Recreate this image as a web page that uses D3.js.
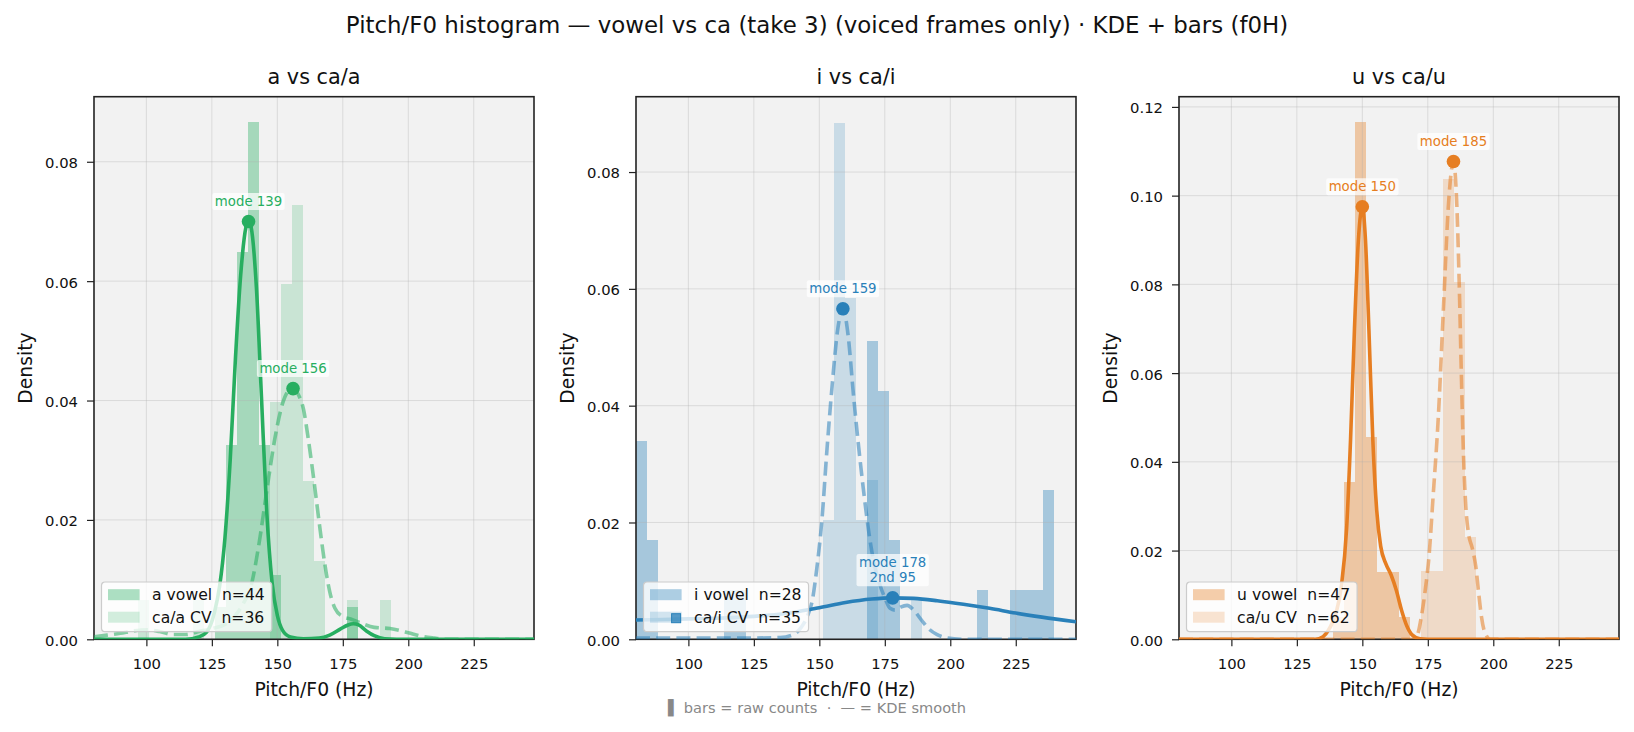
<!DOCTYPE html>
<html lang="en">
<head>
<meta charset="UTF-8">
<title>Pitch/F0 histogram — vowel vs ca</title>
<script src="https://d3js.org/d3.v7.min.js"></script>
<style>
  body { margin: 0; background: #fff; overflow: hidden; }
  svg text { font-family: "DejaVu Sans", "Liberation Sans", sans-serif; fill: #111; }
  .pre { white-space: pre; }
</style>
</head>
<body>
<svg id="chart" width="1634" height="732"></svg>
<script>
// ---- values ----
const suptitle = "Pitch/F0 histogram — vowel vs ca (take 3) (voiced frames only) · KDE + bars (f0H)";
const footnote = "▌ bars = raw counts  ·  — = KDE smooth";
const panelTitles = ["a vs ca/a", "i vs ca/i", "u vs ca/u"];
const panelColors = ["#27ae60", "#2980b9", "#e67e22"];
const vowelLabels = ["a vowel  n=44", "i vowel  n=28", "u vowel  n=47"];
const cvLabels = ["ca/a CV  n=36", "ca/i CV  n=35", "ca/u CV  n=62"];
const yMax = [0.0909, 0.0929, 0.1223];
const xTicks = [100, 125, 150, 175, 200, 225];
const yTicks = [[0, 0.02, 0.04, 0.06, 0.08], [0, 0.02, 0.04, 0.06, 0.08], [0, 0.02, 0.04, 0.06, 0.08, 0.10, 0.12]];

// shared histogram bin edges (Hz)
const binEdges = [80, 84.2, 88.4, 92.6, 96.8, 101, 105.2, 109.4, 113.6, 117.8,
  122, 126.2, 130.4, 134.6, 138.8, 143, 147.2, 151.4, 155.6, 159.8,
  164, 168.2, 172.4, 176.6, 180.8, 185, 189.2, 193.4, 197.6, 201.8,
  206, 210.2, 214.4, 218.6, 222.8, 227, 231.2, 235.4, 239.6, 243.8, 248];

// bar densities: bin index + density
const aVowelBins = [11, 12, 13, 14, 15, 16, 23];
const aVowelDens = [0.0054, 0.0325, 0.0649, 0.0866, 0.0325, 0.0108, 0.0054];
const caaBins = [4, 9, 16, 17, 18, 19, 20, 23, 26];
const caaDens = [0.0066, 0.0066, 0.0397, 0.0595, 0.0728, 0.0265, 0.0132, 0.0066, 0.0066];
const iVowelBins = [0, 1, 8, 9, 21, 22, 23, 31, 34, 35, 36, 37];
const iVowelDens = [0.0340, 0.0170, 0.0085, 0.0085, 0.0510, 0.0425, 0.0170, 0.0085, 0.0085, 0.0085, 0.0085, 0.0255];
const caiBins = [17, 18, 19, 20, 21, 25];
const caiDens = [0.0204, 0.0884, 0.0585, 0.0204, 0.0272, 0.0068];
const uVowelBins = [14, 15, 16, 17, 18, 19, 20];
const uVowelDens = [0.0051, 0.0355, 0.1165, 0.0456, 0.0152, 0.0152, 0.0051];
const cauBins = [22, 23, 24, 25, 26];
const cauDens = [0.0154, 0.0154, 0.1037, 0.0806, 0.0230];

// KDE curves [Hz, density]
const aVowelKde = [[80,0],[115,0],[120,0.0004],[123,0.0012],[126,0.0045],[128,0.0090],[130,0.0170],[132,0.0300],
  [134,0.0470],[136,0.0610],[138,0.0690],[139,0.0700],[140,0.0690],[142,0.0590],[144,0.0400],[146,0.0210],
  [148,0.0095],[150,0.0040],[152,0.0015],[155,0.0004],[160,0.0001],[166,0.0002],[170,0.0007],[174,0.0017],
  [177,0.0024],[179,0.0026],[181,0.0024],[184,0.0014],[187,0.0006],[191,0.0001],[200,0],[248,0]];
const caaKde = [[80,0.0004],[85,0.0007],[90,0.0010],[95,0.0014],[100,0.0016],[105,0.0013],[110,0.0008],[115,0.0008],
  [120,0.0013],[125,0.0018],[130,0.0025],[134,0.0040],[137,0.0060],[140,0.0090],[143,0.0160],[146,0.0250],
  [149,0.0335],[152,0.0395],[154,0.0415],[156,0.0420],[158,0.0410],[160,0.0385],[162,0.0330],[164,0.0265],
  [166,0.0195],[168,0.0130],[170,0.0080],[172,0.0052],[175,0.0038],[178,0.0034],[182,0.0027],[187,0.0020],
  [193,0.0018],[200,0.0011],[205,0.0005],[210,0.0002],[215,0],[248,0]];
const iVowelKde = [[80,0.0033],[90,0.0034],[100,0.0035],[110,0.0036],[120,0.0038],[130,0.0041],[140,0.0046],
  [150,0.0054],[160,0.0063],[170,0.0069],[178,0.0071],[186,0.0070],[195,0.0066],[205,0.0060],[215,0.0053],
  [225,0.0045],[235,0.0038],[248,0.0030]];
const caiKde = [[80,0.0002],[120,0.0002],[135,0.0003],[140,0.0008],[143,0.0020],[145.5,0.0040],[147.5,0.0071],
  [149,0.0120],[151,0.0205],[153,0.0330],[155,0.0440],[157,0.0530],[159,0.0566],[161,0.0520],[163,0.0420],
  [165,0.0330],[167,0.0250],[169,0.0180],[171,0.0128],[173,0.0095],[175,0.0071],[177,0.0053],[179,0.0050],
  [181,0.0055],[183.5,0.0058],[186,0.0050],[189,0.0033],[192,0.0017],[195,0.0008],[199,0.0002],[204,0],[248,0]];
const uVowelKde = [[80,0],[132,0],[135,0.0006],[137.5,0.0025],[140,0.0060],[142,0.0120],[144,0.0250],[145.5,0.0450],
  [147,0.0700],[148.5,0.0900],[150,0.0975],[151.2,0.0900],[152.5,0.0700],[154,0.0450],[155.5,0.0290],[157,0.0210],
  [159,0.0170],[161,0.0145],[163,0.0110],[165,0.0065],[167,0.0030],[169,0.0010],[172,0.0001],[175,0],[248,0]];
const cauKde = [[80,0],[169,0],[171,0.0010],[172.5,0.0050],[174,0.0110],[175.5,0.0190],[177,0.0320],[179,0.0500],
  [181,0.0750],[183,0.0990],[184.8,0.1077],[186,0.0990],[187,0.0800],[187.8,0.0600],[188.6,0.0420],[189.5,0.0300],
  [190.5,0.0240],[192,0.0205],[193.3,0.0165],[194.5,0.0100],[195.5,0.0050],[197,0.0012],[199,0],[248,0]];

// mode markers
const modesA = [{ x: 139, y: 0.0700, text: ["mode 139"] }, { x: 156, y: 0.0420, text: ["mode 156"] }];
const modesI = [{ x: 159, y: 0.0566, text: ["mode 159"] }, { x: 178, y: 0.0071, text: ["mode 178", "2nd 95"] }];
const modesU = [{ x: 150, y: 0.0975, text: ["mode 150"] }, { x: 184.8, y: 0.1077, text: ["mode 185"] }];

const panels = [
  { vowel: { bins: aVowelBins, dens: aVowelDens, kde: aVowelKde }, cv: { bins: caaBins, dens: caaDens, kde: caaKde }, modes: modesA },
  { vowel: { bins: iVowelBins, dens: iVowelDens, kde: iVowelKde }, cv: { bins: caiBins, dens: caiDens, kde: caiKde }, modes: modesI, legendMarker: true },
  { vowel: { bins: uVowelBins, dens: uVowelDens, kde: uVowelKde }, cv: { bins: cauBins, dens: cauDens, kde: cauKde }, modes: modesU }
];

// ---- layout ----
const W = 1634;
const plotTop = 96.7, plotH = 542.6, plotW = 440;
const panelLeft = [94, 636, 1179];
const vowelAlpha = 0.38, cvAlpha = 0.2;

const svg = d3.select("#chart");
const defs = svg.append("defs");

svg.append("text")
  .attr("x", W / 2).attr("y", 33)
  .attr("text-anchor", "middle")
  .style("font-size", "22.9px")
  .text(suptitle);

svg.append("text")
  .attr("class", "pre")
  .attr("x", W / 2).attr("y", 713)
  .attr("text-anchor", "middle")
  .style("font-size", "14.6px")
  .style("fill", "#888")
  .text(footnote);

panels.forEach((p, i) => {
  const color = panelColors[i];
  const left = panelLeft[i];
  const g = svg.append("g").attr("transform", `translate(${left},${plotTop})`);

  const x = d3.scaleLinear().domain([80, 248]).range([0, plotW]);
  const y = d3.scaleLinear().domain([0, yMax[i]]).range([plotH, 0]);

  defs.append("clipPath").attr("id", "clip" + i)
    .append("rect").attr("width", plotW).attr("height", plotH);

  // background
  g.append("rect").attr("width", plotW).attr("height", plotH).attr("fill", "#f2f2f2");

  // bars
  [[p.vowel, vowelAlpha], [p.cv, cvAlpha]].forEach(([s, a]) => {
    g.append("g")
      .selectAll("rect")
      .data(s.bins.map((k, j) => ({ k, d: s.dens[j] })))
      .join("rect")
      .attr("x", d => x(binEdges[d.k]))
      .attr("width", d => x(binEdges[d.k + 1]) - x(binEdges[d.k]))
      .attr("y", d => y(d.d))
      .attr("height", d => plotH - y(d.d))
      .attr("fill", color)
      .attr("fill-opacity", a)
      .attr("shape-rendering", "crispEdges");
  });

  // grid
  const grid = g.append("g").attr("stroke", "#b0b0b0").attr("stroke-opacity", 0.35).attr("stroke-width", 1);
  grid.selectAll(".gx").data(xTicks).join("line")
    .attr("x1", d => x(d)).attr("x2", d => x(d)).attr("y1", 0).attr("y2", plotH);
  grid.selectAll(".gy").data(yTicks[i]).join("line")
    .attr("x1", 0).attr("x2", plotW).attr("y1", d => y(d)).attr("y2", d => y(d));

  // axes
  const xa = g.append("g").attr("transform", `translate(0,${plotH})`)
    .call(d3.axisBottom(x).tickValues(xTicks).tickSize(7).tickPadding(12).tickFormat(d3.format("d")));
  const ya = g.append("g")
    .call(d3.axisLeft(y).tickValues(yTicks[i]).tickSize(7).tickPadding(9).tickFormat(d3.format(".2f")));
  [xa, ya].forEach(a => {
    a.select(".domain").remove();
    a.selectAll("line").attr("stroke", "#222").attr("stroke-width", 1.2);
    a.selectAll("text").style("font-size", "14.8px").style("fill", "#111");
  });
  ya.selectAll("text").attr("dy", "0.4em");

  // spines
  g.append("rect").attr("width", plotW).attr("height", plotH)
    .attr("fill", "none").attr("stroke", "#222").attr("stroke-width", 1.6);

  // KDE lines
  const line = d3.line().x(d => x(d[0])).y(d => y(d[1])).curve(d3.curveMonotoneX);
  const lines = g.append("g").attr("clip-path", `url(#clip${i})`);
  lines.append("path").attr("d", line(p.vowel.kde))
    .attr("fill", "none").attr("stroke", color).attr("stroke-width", 3.6)
    .attr("stroke-linejoin", "round");
  lines.append("path").attr("d", line(p.cv.kde))
    .attr("fill", "none").attr("stroke", color).attr("stroke-opacity", 0.55)
    .attr("stroke-width", 3.6).attr("stroke-dasharray", "14,6.2");

  // mode markers + labels
  p.modes.forEach(m => {
    const cx = x(m.x), cy = y(m.y);
    g.append("circle").attr("cx", cx).attr("cy", cy).attr("r", 6.8).attr("fill", color);
    const lab = g.append("g");
    const bg = lab.append("rect");
    const t = lab.append("text").attr("text-anchor", "middle")
      .style("font-size", "13.3px").style("fill", color);
    m.text.forEach((ln, j) => {
      t.append("tspan")
        .attr("x", cx)
        .attr("y", cy - 20.3 - (m.text.length - 1 - j) * 15.4)
        .attr("dy", "0.36em")
        .text(ln);
    });
    const bb = t.node().getBBox();
    bg.attr("x", bb.x - 2.5).attr("y", bb.y - 1).attr("width", bb.width + 5).attr("height", bb.height + 2)
      .attr("rx", 2).attr("fill", "#fff").attr("fill-opacity", 0.72);
  });

  // legend
  const lg = g.append("g").attr("transform", `translate(7.5,${582 - plotTop})`);
  const box = lg.append("rect").attr("height", 49.7).attr("rx", 3.5)
    .attr("fill", "#fff").attr("fill-opacity", 0.8)
    .attr("stroke", "#cccccc").attr("stroke-width", 1.2);
  let maxLen = 0;
  [[vowelLabels[i], vowelAlpha], [cvLabels[i], cvAlpha]].forEach(([label, a], j) => {
    const cy = 12.7 + j * 22.5;
    lg.append("rect").attr("x", 6.5).attr("y", cy - 5.5).attr("width", 31.6).attr("height", 11)
      .attr("fill", color).attr("fill-opacity", a);
    const t = lg.append("text").attr("class", "pre")
      .attr("x", 50.6).attr("y", cy).attr("dy", "0.35em")
      .style("font-size", "15.6px")
      .text(label);
    maxLen = Math.max(maxLen, t.node().getComputedTextLength());
  });
  box.attr("width", 50.6 + maxLen + 7);
  if (p.legendMarker) {
    lg.append("rect").attr("x", 28.1).attr("y", 31.7).attr("width", 9).attr("height", 9)
      .attr("fill", color).attr("fill-opacity", 0.75)
      .attr("stroke", color).attr("stroke-width", 1);
  }

  // titles and labels
  g.append("text").attr("x", plotW / 2).attr("y", -12.5)
    .attr("text-anchor", "middle").style("font-size", "20.8px").text(panelTitles[i]);
  g.append("text").attr("x", plotW / 2).attr("y", 696.5 - plotTop)
    .attr("text-anchor", "middle").style("font-size", "18.75px").text("Pitch/F0 (Hz)");
  g.append("text")
    .attr("transform", `translate(-62,${plotH / 2}) rotate(-90)`)
    .attr("text-anchor", "middle").style("font-size", "18.75px").text("Density");
});
</script>
</body>
</html>
